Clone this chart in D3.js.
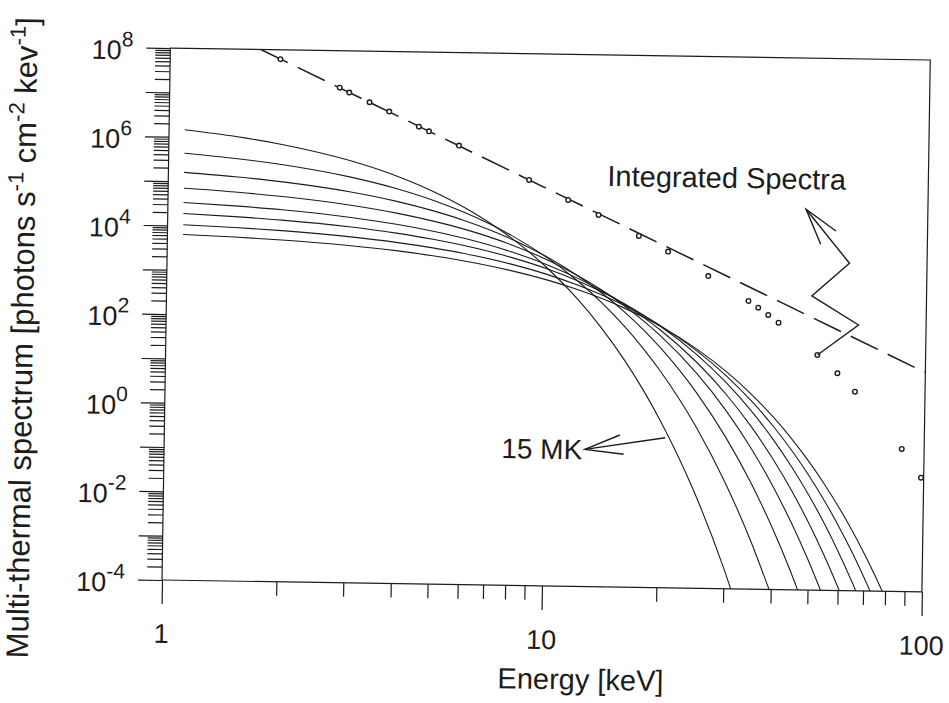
<!DOCTYPE html>
<html>
<head>
<meta charset="utf-8">
<script src="https://cdn.jsdelivr.net/npm/d3@7"></script>
<style>
  body { margin: 0; background: #fff; }
  text { font-family: "Liberation Sans", Arial, sans-serif; fill: #1c1c1c; }
</style>
</head>
<body>
<div id="chart"></div>
<script>
// Energy grid (keV) shared by the thermal curves
const energies = [1.1, 1.5, 2, 3, 4, 5, 6, 8, 10, 12, 14, 16, 18, 20, 25, 30, 35, 40, 45, 50, 55, 60, 65, 70, 75, 80];

// Thermal spectra, 15 MK ... 50 MK (photons s-1 cm-2 keV-1)
const temperaturesMK = [15, 20, 25, 30, 35, 40, 45, 50];
const flux15 = [1.46e6, 1.07e6, 7.26e5, 3.36e5, 1.55e5, 7.16e4, 3.31e4, 7.08e3, 1.51e3, 322, 68.9, 14.7, 3.14, 0.670, 1.41e-2, 2.97e-4, 6.25e-6];
const flux20 = [4.30e5, 3.41e5, 2.56e5, 1.44e5, 8.09e4, 4.54e4, 2.55e4, 8.07e3, 2.55e3, 807, 255, 80.5, 25.5, 8.05, 0.452, 2.54e-2, 1.43e-3, 8.02e-5];
const flux25 = [1.59e5, 1.32e5, 1.05e5, 6.64e4, 4.19e4, 2.64e4, 1.67e4, 6.64e3, 2.64e3, 1.05e3, 419, 167, 66.4, 26.4, 2.64, 0.264, 2.64e-2, 2.64e-3, 2.64e-4, 2.64e-5];
const flux30 = [6.95e4, 5.96e4, 4.91e4, 3.35e4, 2.28e4, 1.55e4, 1.06e4, 4.91e3, 2.28e3, 1.05e3, 490, 227, 105, 48.9, 7.16, 1.05, 0.154, 2.25e-2, 3.30e-3, 4.84e-4, 7.10e-5];
const flux35 = [3.32e4, 2.91e4, 2.47e4, 1.77e4, 1.28e4, 9.18e3, 6.61e3, 3.41e3, 1.77e3, 914, 472, 244, 126, 65.3, 12.6, 2.42, 0.465, 8.93e-2, 1.72e-2, 3.30e-3, 6.35e-4, 1.22e-4, 2.35e-5];
const flux40 = [1.87e4, 1.66e4, 1.44e4, 1.08e4, 8.07e3, 6.05e3, 4.53e3, 2.54e3, 1.43e3, 800, 449, 252, 141, 79.2, 18.7, 4.41, 1.04, 0.245, 5.77e-2, 1.36e-2, 3.21e-3, 7.57e-4, 1.78e-4, 4.21e-5];
const flux45 = [1.05e4, 9.48e3, 8.34e3, 6.45e3, 4.99e3, 3.86e3, 2.99e3, 1.79e3, 1.07e3, 640, 383, 229, 137, 82.0, 22.7, 6.30, 1.74, 0.483, 0.134, 3.71e-2, 1.03e-2, 2.84e-3, 7.88e-4, 2.18e-4, 6.05e-5];
const flux50 = [6.32e3, 5.77e3, 5.14e3, 4.07e3, 3.24e3, 2.56e3, 2.03e3, 1.28e3, 805, 507, 319, 200, 126, 79.4, 24.9, 7.83, 2.46, 0.773, 0.243, 7.62e-2, 2.39e-2, 7.52e-3, 2.36e-3, 7.41e-4, 2.33e-4, 7.31e-5];
const thermalFluxes = [flux15, flux20, flux25, flux30, flux35, flux40, flux45, flux50];

// Integrated spectrum points
const integratedEnergy = [1.95, 2.80, 2.97, 3.36, 3.79, 4.54, 4.83, 5.80, 8.90, 11.3, 13.6, 17.4, 20.8, 26.6, 34.0, 36.1, 38.4, 40.9, 51.9, 58.7, 65.4, 87.3, 98.4];
const integratedFlux = [6.15e7, 1.47e7, 1.15e7, 7.06e6, 4.42e6, 2.07e6, 1.64e6, 7.98e5, 1.42e5, 5.20e4, 2.44e4, 8.49e3, 3.85e3, 1.12e3, 318, 226, 156, 105, 20.3, 7.98, 3.11, 0.165, 3.77e-2];

// Power-law fit (dashed)
const fitEnergy = [1.73, 100];
const fitFlux = [1e8, 8.9];

// Tick labels
const xTickLabels = ["1", "10", "100"];
const yTickExponents = ["-4", "-2", "0", "2", "4", "6", "8"];

// Annotation arrows, [E, F]
const arrow15Shaft = [[20.8, 0.244], [12.8, 0.125]];
const arrow15Head = [[15.8, 0.271], [12.8, 0.125], [16.2, 0.0998]];
const arrowIntShaft = [[51.9, 20.3], [66.4, 99.8], [49.9, 434], [62.5, 2440], [47.8, 38900]];
const arrowIntHead = [[52.4, 6400], [47.8, 38900], [57.4, 12900]];

// Basic size information
var margin = {top: 48, left: 162};
var width = 760;
var height = 532;
var tilt = 0.9;   // the scanned figure is slightly rotated
var ink = "#1c1c1c";

var svg = d3.select("#chart")
    .append("svg")
        .attr("width", 949)
        .attr("height", 703);

var g = svg.append("g")
    .attr("transform", "rotate(" + tilt + "," + margin.left + "," + (margin.top + height) + ") translate(" + margin.left + "," + margin.top + ")");

var x = d3.scaleLog().domain([1, 100]).range([0, width]);
var y = d3.scaleLog().domain([1e-4, 1e8]).range([height, 0]);

// Clip for curves
svg.append("defs").append("clipPath").attr("id", "plotclip")
    .append("rect").attr("x", 0).attr("y", 0).attr("width", width).attr("height", height);

// Tick positions
var xMajor = [1, 10, 100];
var xMinor = [];
[1, 10].forEach(d => { for (let k = 2; k <= 9; k++) xMinor.push(k * d); });
var yMajor = d3.range(-4, 9).map(p => Math.pow(10, p));
var yMinor = [];
d3.range(-4, 8).forEach(p => { for (let k = 2; k <= 9; k++) yMinor.push(k * Math.pow(10, p)); });

function styleAxis(sel) {
    sel.attr("color", ink);
    sel.selectAll("line, path").attr("stroke-width", 1.2);
    sel.select(".domain").remove();
}

// Axes
g.append("g").call(d3.axisLeft(y).tickValues(yMajor).tickSize(24).tickFormat("")).call(styleAxis);
g.append("g").call(d3.axisLeft(y).tickValues(yMinor).tickSize(15).tickFormat("")).call(styleAxis);
g.append("g").attr("transform", "translate(0," + height + ")")
    .call(d3.axisBottom(x).tickValues(xMajor).tickSize(24).tickFormat("")).call(styleAxis);
g.append("g").attr("transform", "translate(0," + height + ")")
    .call(d3.axisBottom(x).tickValues(xMinor).tickSize(14).tickFormat("")).call(styleAxis);

// Frame
g.append("rect")
    .attr("x", 0).attr("y", 0).attr("width", width).attr("height", height)
    .attr("fill", "none").attr("stroke", ink).attr("stroke-width", 1.2);

// Y tick labels
var ylab = g.append("g").selectAll("text")
    .data(yTickExponents)
    .join("text")
        .attr("x", -37)
        .attr("y", d => y(Math.pow(10, +d)) + 12)
        .attr("text-anchor", "end")
        .style("font-size", "27px");
ylab.append("tspan").text("10");
ylab.append("tspan").attr("dy", -13).style("font-size", "21px").text(d => d);

// X tick labels
g.append("g").selectAll("text")
    .data(xTickLabels)
    .join("text")
        .attr("x", d => x(+d))
        .attr("y", height + 63)
        .attr("text-anchor", "middle")
        .style("font-size", "27px")
        .text(d => d);

// Axis titles
g.append("text")
    .attr("x", 420).attr("y", 635)
    .attr("text-anchor", "middle")
    .style("font-size", "29px")
    .text("Energy [keV]");

var yt = g.append("text")
    .attr("transform", "translate(-133,292) rotate(-90)")
    .attr("text-anchor", "middle")
    .style("font-size", "31px");
[["Multi-thermal spectrum [photons s", 0], ["-1", 1], [" cm", 0], ["-2", 1], [" kev", 0], ["-1", 1], ["]", 0]]
    .forEach((p, i, arr) => {
        var dy = p[1] ? -12 : (i > 0 && arr[i - 1][1] ? 12 : 0);
        yt.append("tspan").attr("dy", dy).style("font-size", p[1] ? "22px" : "31px").text(p[0]);
    });

// Thermal curves
var line = d3.line()
    .x(d => x(d[0]))
    .y(d => y(d[1]))
    .curve(d3.curveMonotoneX);

g.append("g")
    .attr("clip-path", "url(#plotclip)")
    .selectAll("path")
    .data(thermalFluxes)
    .join("path")
        .attr("fill", "none")
        .attr("stroke", ink)
        .attr("stroke-width", 1.1)
        .attr("d", f => line(f.map((v, i) => [energies[i], v])));

// Power-law fit, dashed
g.append("path")
    .attr("clip-path", "url(#plotclip)")
    .attr("fill", "none")
    .attr("stroke", ink)
    .attr("stroke-width", 1.5)
    .attr("stroke-dasharray", "30,11")
    .attr("d", d3.line().x(d => x(d[0])).y(d => y(d[1]))(fitEnergy.map((e, i) => [e, fitFlux[i]])));

// Integrated spectrum points
g.append("g").selectAll("circle")
    .data(integratedEnergy.map((e, i) => [e, integratedFlux[i]]))
    .join("circle")
        .attr("cx", d => x(d[0]))
        .attr("cy", d => y(d[1]))
        .attr("r", 2.3)
        .attr("fill", "#fff")
        .attr("stroke", ink)
        .attr("stroke-width", 1.4);

// Annotation arrows
var straight = d3.line().x(d => x(d[0])).y(d => y(d[1]));
[arrow15Shaft, arrow15Head, arrowIntShaft, arrowIntHead].forEach(pts => {
    g.append("path")
        .attr("fill", "none")
        .attr("stroke", ink)
        .attr("stroke-width", 1.4)
        .attr("stroke-linejoin", "miter")
        .attr("d", straight(pts));
});

// Annotation labels
g.append("text")
    .attr("x", x(12.6)).attr("y", y(0.0743))
    .attr("text-anchor", "end")
    .style("font-size", "28px")
    .text("15 MK");

g.append("text")
    .attr("x", x(14.3)).attr("y", y(1.11e5))
    .style("font-size", "29px")
    .text("Integrated Spectra");
</script>
</body>
</html>
